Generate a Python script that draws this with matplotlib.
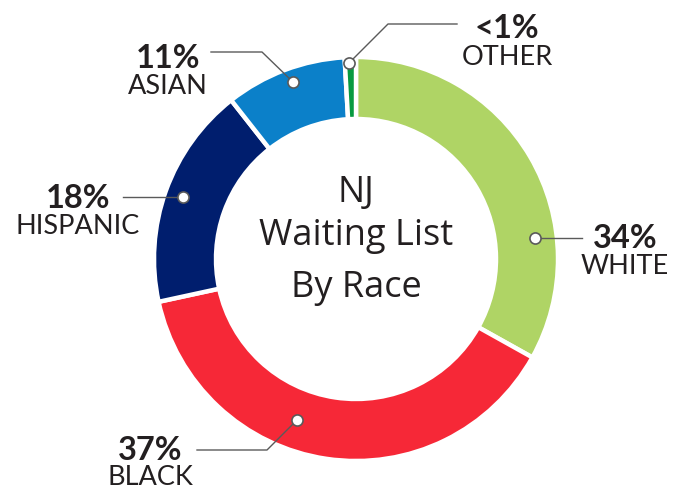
import matplotlib
matplotlib.use("Agg")
import matplotlib.pyplot as plt

# slices clockwise from the top
categories = ["WHITE", "BLACK", "HISPANIC", "ASIAN", "OTHER"]
# arc shares as drawn in the picture (labels are rounded)
shares = [33.1, 38.5, 17.8, 9.7, 0.9]
pct_labels = ["34%", "37%", "18%", "11%", "<1%"]
colors = ["#afd465", "#f62837", "#001e6e", "#0b80c9", "#079a40"]

W, H = 682, 489
fig = plt.figure(figsize=(W / 100, H / 100), dpi=100)
ax = fig.add_axes([0, 0, 1, 1])

cx, cy, r = 356, H - 260, 202
ax.pie(shares, colors=colors, startangle=90, counterclock=False,
       center=(cx, cy), radius=r, frame=True,
       wedgeprops=dict(width=62, edgecolor="white", linewidth=3.2))
ax.set_xlim(0, W)
ax.set_ylim(0, H)
ax.set_aspect("equal")
ax.axis("off")

ink = "#231f20"
line_c = "#5a5a5a"

# leader lines: marker point, elbow, end (image coords, y down)
leaders = {
    "WHITE": [(535, 239), (582, 239)],
    "BLACK": [(297, 421), (267, 451), (197, 451)],
    "HISPANIC": [(183, 198), (123, 198)],
    "ASIAN": [(293, 83), (262, 53), (211, 53)],
    "OTHER": [(349, 64), (388, 25), (457, 25)],
}
# label centre x, baseline of pct, baseline of name
label_pos = {
    "WHITE": (625, 248, 274),
    "BLACK": (150, 460, 485),
    "HISPANIC": (78, 208, 234),
    "ASIAN": (168, 68, 94),
    "OTHER": (507, 38, 65),
}

for name, pct in zip(categories, pct_labels):
    pts = leaders[name]
    xs = [p[0] for p in pts]
    ys = [H - p[1] for p in pts]
    ax.plot(xs, ys, color=line_c, lw=1.0, zorder=3)
    ax.plot(xs[0], ys[0], "o", ms=8, mfc="white", mec=line_c, mew=1.2, zorder=4)
    x, yb1, yb2 = label_pos[name]
    ax.text(x, H - yb1, pct, ha="center", va="baseline", fontsize=23.5,
            fontweight="bold", family="Lato", color=ink)
    ax.text(x, H - yb2, name, ha="center", va="baseline", fontsize=19.5,
            family="Lato", color=ink)

for txt, yb in [("NJ", 202), ("Waiting List", 245), ("By Race", 297)]:
    ax.text(cx, H - yb, txt, ha="center", va="baseline", fontsize=26,
            family="Open Sans", color=ink)

fig.savefig("out.png", dpi=100)
